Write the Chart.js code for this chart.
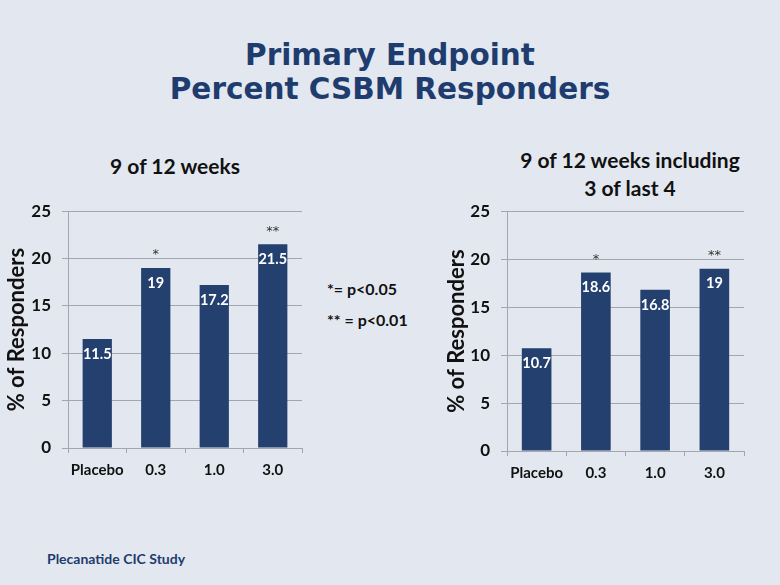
<!DOCTYPE html>
<html>
<head>
<meta charset="utf-8">
<script src="https://cdn.jsdelivr.net/npm/chart.js@4"></script>
<style>
  html, body { margin:0; padding:0; }
  body { width:780px; height:585px; background:#e3e8f0; position:relative; overflow:hidden; font-family: Lato, "Open Sans", sans-serif; }
  #title { position:absolute; left:0; top:38px; width:780px; text-align:center; color:#1f3c6e; font-family:"DejaVu Sans", Verdana, sans-serif; font-weight:bold; font-size:29.5px; line-height:34px; }
  .sub { position:absolute; text-align:center; font-weight:bold; font-size:21px; line-height:28px; color:#111; }
  .note { position:absolute; left:327px; font-weight:bold; font-size:16px; color:#111; }
  #footer { position:absolute; left:47px; top:550px; font-weight:bold; font-size:14px; color:#1f3c6e; }
  .wrap { position:absolute; }
</style>
</head>
<body>
<div id="title">Primary Endpoint<br>Percent CSBM Responders</div>
<div class="sub" style="left:75px; top:152px; width:200px;">9 of 12 weeks</div>
<div class="sub" style="left:480px; top:146px; width:300px;">9 of 12 weeks including<br>3 of last 4</div>
<div class="note" style="top:279px;">*= p&lt;0.05</div>
<div class="note" style="top:310px;">** = p&lt;0.01</div>
<div id="footer">Plecanatide CIC Study</div>
<div class="wrap" style="left:0px; top:190px; width:310px; height:300px;"><canvas id="c1"></canvas></div>
<div class="wrap" style="left:440px; top:190px; width:340px; height:300px;"><canvas id="c2"></canvas></div>
<script>
const categories = ["Placebo", "0.3", "1.0", "3.0"];
const weeks9of12 = [11.5, 19, 17.2, 21.5];
const weeks9of12Last4 = [10.7, 18.6, 16.8, 19];
const sig9of12 = ["", "*", "", "**"];
const sig9of12Last4 = ["", "*", "", "**"];
const yAxisTitle = "% of Responders";
const yMax = 25;
const yStep = 5;

const barColor = "#23406f";
const gridColor = "#a3a7ad";

function labelPlugin(sig) {
  return {
    id: "barLabels",
    afterDatasetsDraw(chart) {
      const ctx = chart.ctx;
      const meta = chart.getDatasetMeta(0);
      const data = chart.data.datasets[0].data;
      ctx.save();
      ctx.textAlign = "center";
      ctx.textBaseline = "middle";
      meta.data.forEach((bar, i) => {
        ctx.fillStyle = "#ffffff";
        ctx.font = "bold 14.5px Lato, 'Open Sans', sans-serif";
        ctx.fillText(String(data[i]), bar.x, bar.y + 15);
        if (sig[i]) {
          ctx.fillStyle = "#333333";
          ctx.font = "13px 'DejaVu Sans', sans-serif";
          ctx.fillText(sig[i], bar.x, bar.y - 13);
        }
      });
      ctx.restore();
    }
  };
}

function makeChart(id, values, sig, yWidth, xHeight, padRight, padTop, padLeft) {
  return new Chart(document.getElementById(id), {
    type: "bar",
    data: {
      labels: categories,
      datasets: [{ data: values, backgroundColor: barColor, barPercentage: 0.5, categoryPercentage: 1.0 }]
    },
    options: {
      responsive: true,
      maintainAspectRatio: false,
      animation: false,
      layout: { padding: { top: padTop, right: padRight, left: padLeft, bottom: 0 } },
      plugins: { legend: { display: false }, tooltip: { enabled: false }, title: { display: false } },
      scales: {
        y: {
          min: 0, max: yMax,
          ticks: { stepSize: yStep, color: "#111", font: { family: "Lato, 'Open Sans', sans-serif", weight: "bold", size: 17 }, padding: 11 },
          grid: { color: gridColor, tickLength: 6, lineWidth: 1 },
          border: { color: gridColor },
          title: { display: true, text: yAxisTitle, color: "#111", font: { family: "Lato, 'Open Sans', sans-serif", weight: "bold", size: 22 }, padding: { top: 0, bottom: 0 } },
          afterFit(s) { s.width = yWidth; }
        },
        x: {
          ticks: { color: "#111", font: { family: "Lato, 'Open Sans', sans-serif", weight: "bold", size: 15 }, padding: 8, maxRotation: 0, minRotation: 0, autoSkip: false },
          grid: { drawOnChartArea: false, color: gridColor, tickLength: 5 },
          border: { color: gridColor },
          afterFit(s) { s.height = xHeight; }
        }
      }
    },
    plugins: [labelPlugin(sig)]
  });
}

makeChart("c1", weeks9of12, sig9of12, 64, 42, 8, 13, 4);
makeChart("c2", weeks9of12Last4, sig9of12Last4, 63, 39, 36, 12, 4);
</script>
</body>
</html>
